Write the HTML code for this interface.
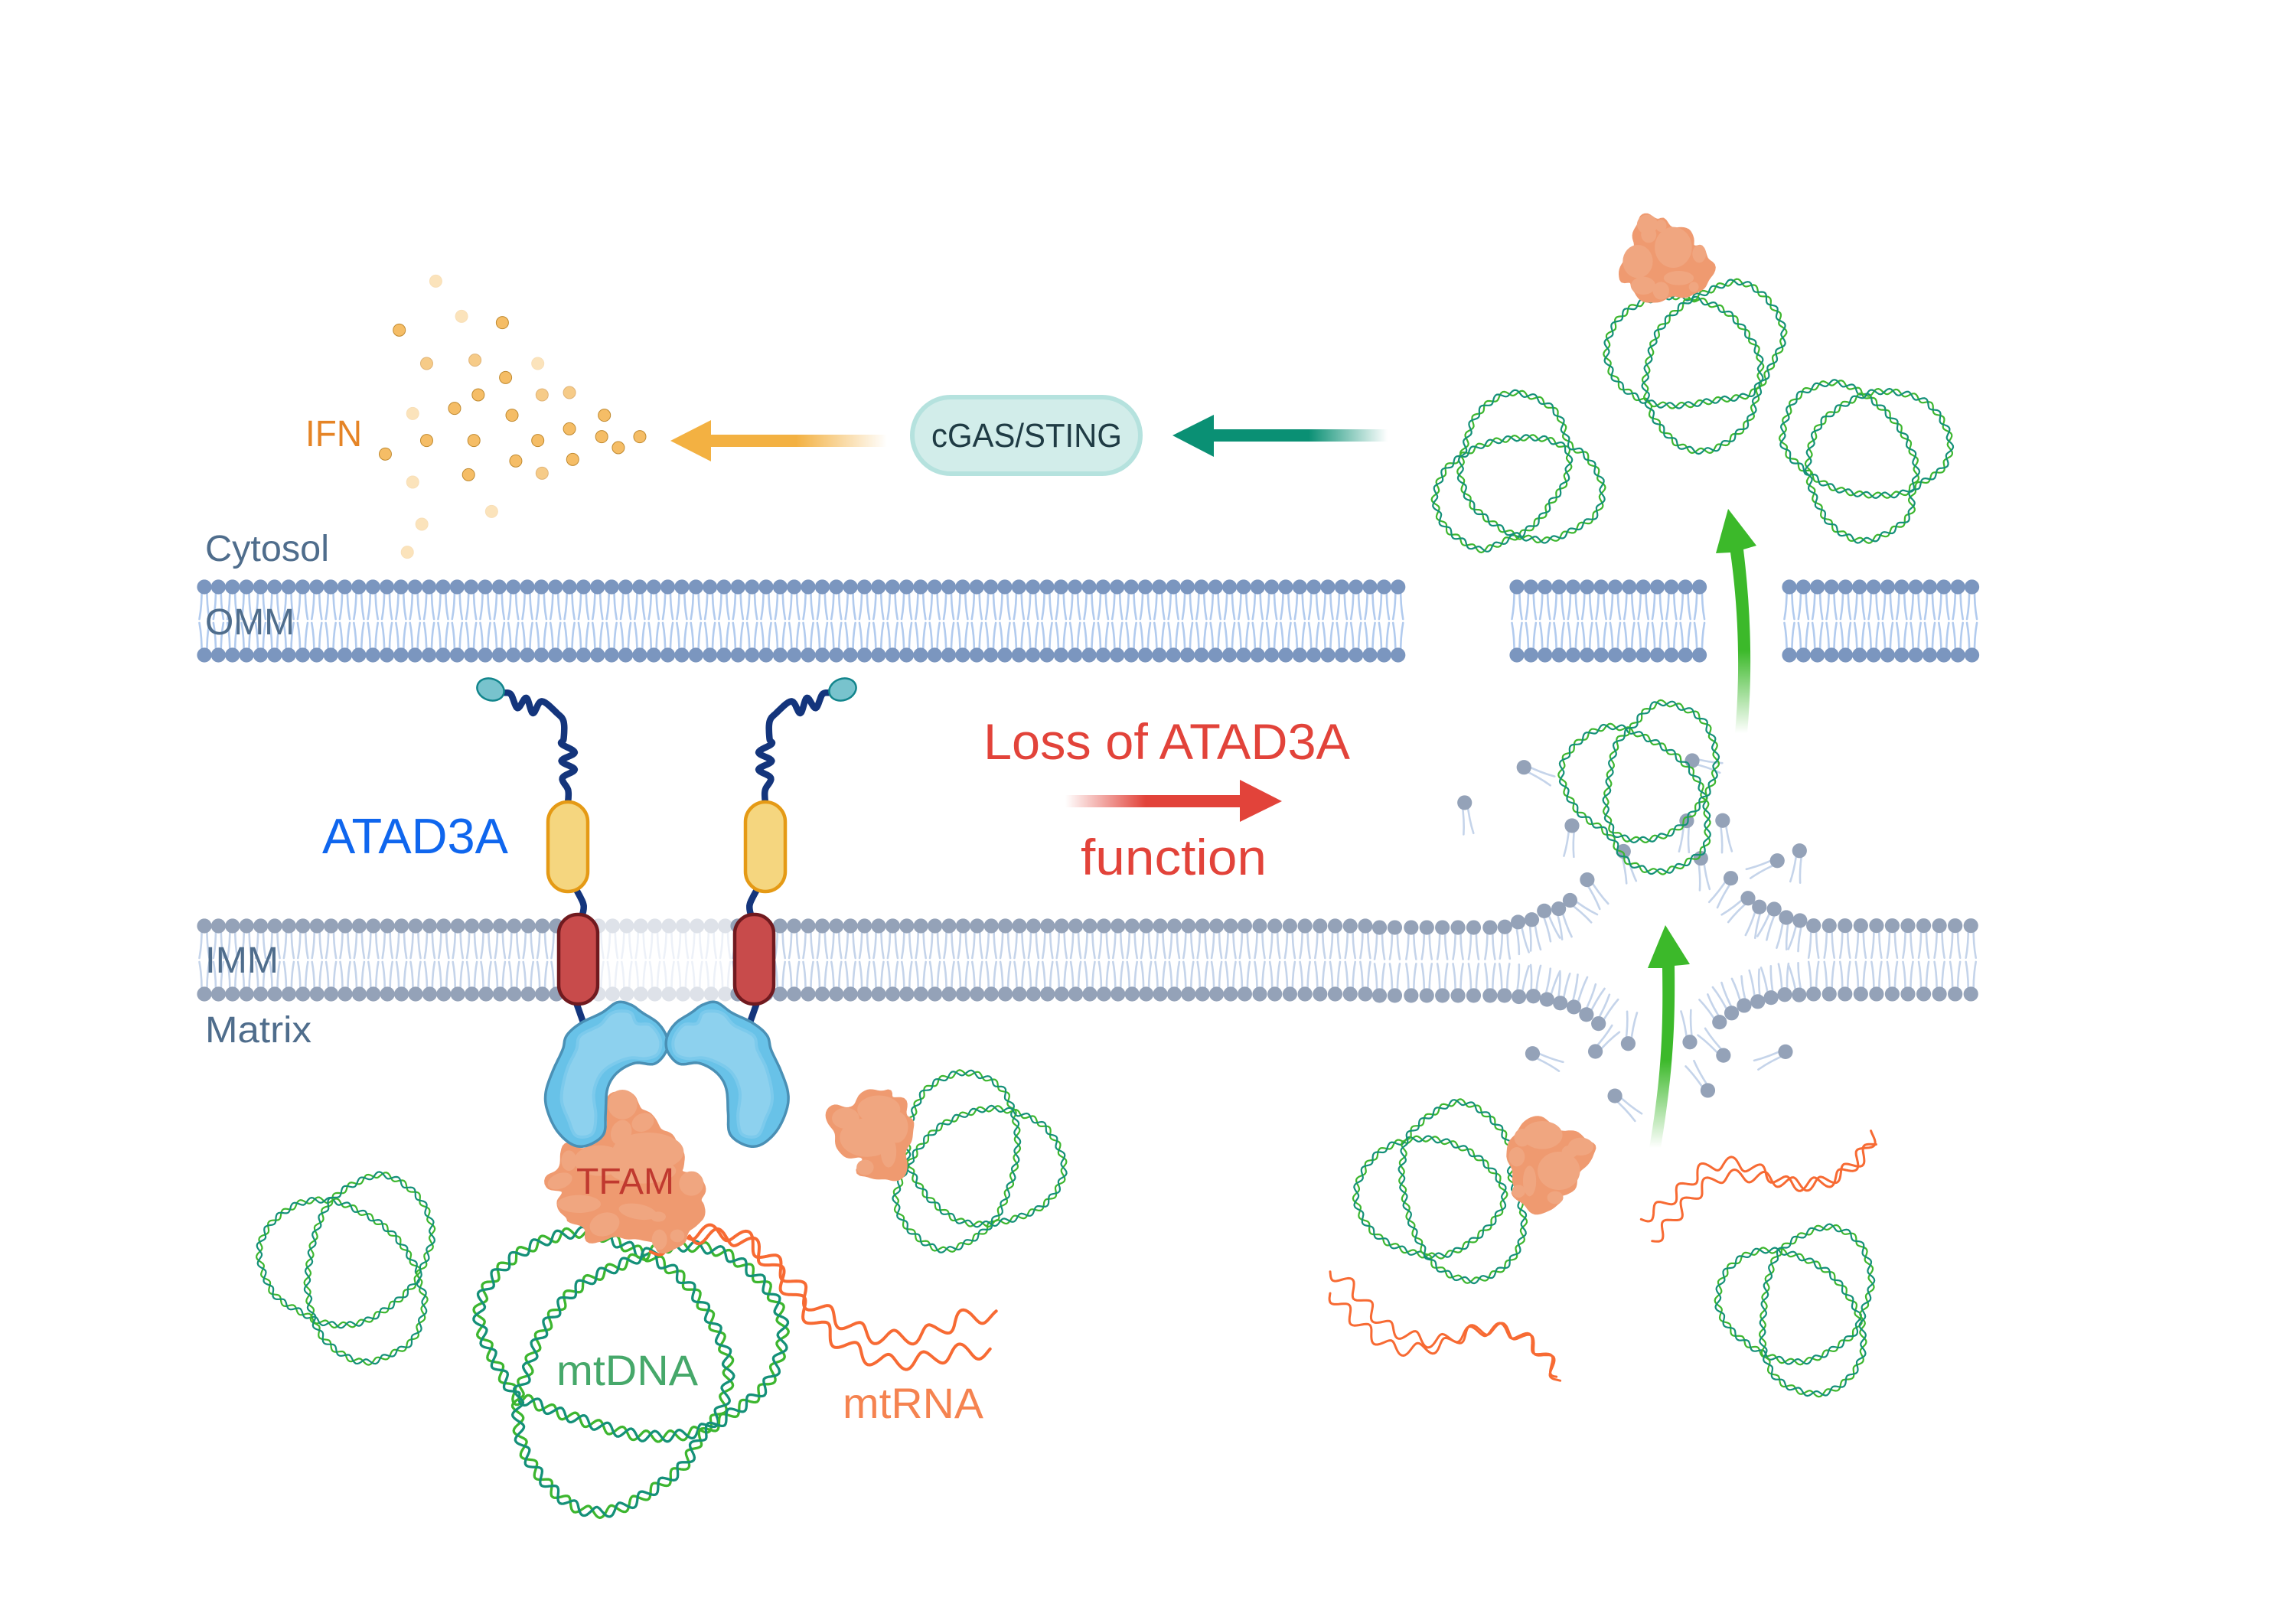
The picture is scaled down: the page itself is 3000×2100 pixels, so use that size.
<!DOCTYPE html>
<html lang="en">
<head>
<meta charset="utf-8">
<title>Loss of ATAD3A function</title>
<style>
html,body{margin:0;padding:0;background:#fff;width:3000px;height:2100px;overflow:hidden}
svg{display:block}
text{font-family:"Liberation Sans",sans-serif}
</style>
</head>
<body>
<svg id="s" xmlns="http://www.w3.org/2000/svg" width="3000" height="2100" viewBox="0 0 3000 2100">
<defs>
<linearGradient id="gy" gradientUnits="userSpaceOnUse" x1="1159" y1="0" x2="1040" y2="0"><stop offset="0" stop-color="#f3b142" stop-opacity="0"/><stop offset="1" stop-color="#f3b142"/></linearGradient>
<linearGradient id="gt" gradientUnits="userSpaceOnUse" x1="1813" y1="0" x2="1710" y2="0"><stop offset="0" stop-color="#0a9074" stop-opacity="0"/><stop offset="1" stop-color="#0a9074"/></linearGradient>
<linearGradient id="gr" gradientUnits="userSpaceOnUse" x1="1392" y1="0" x2="1497" y2="0"><stop offset="0" stop-color="#e2433a" stop-opacity="0"/><stop offset="1" stop-color="#e2433a"/></linearGradient>
<linearGradient id="g1" gradientUnits="userSpaceOnUse" x1="0" y1="1500" x2="0" y2="1385"><stop offset="0" stop-color="#3cb92a" stop-opacity="0"/><stop offset="1" stop-color="#3cb92a"/></linearGradient>
<linearGradient id="g2" gradientUnits="userSpaceOnUse" x1="0" y1="958" x2="0" y2="850"><stop offset="0" stop-color="#3cb92a" stop-opacity="0"/><stop offset="1" stop-color="#3cb92a"/></linearGradient>
</defs>
<g id="layer"></g>
<polygon points="876,576 929,549 929,568 1159,568 1159,584 929,584 929,603" fill="url(#gy)"/>
<polygon points="1532,569 1586,542 1586,561 1813,561 1813,577 1586,577 1586,597" fill="url(#gt)"/>
<polygon points="1392,1039 1620,1039 1620,1019 1675,1047 1620,1074 1620,1055 1392,1055" fill="url(#gr)"/>
<path d="M2172,1265 C2173,1340 2172,1400 2155,1500 L2170,1500 C2186,1400 2189,1340 2188,1262 L2208,1260 L2176,1209 L2153,1265 Z" fill="url(#g1)"/>
<path d="M2261,722 C2272,800 2274,880 2267,958 L2283,958 C2290,880 2288,800 2278,718 L2295,713 L2258,665 L2242,723 Z" fill="url(#g2)"/>
<rect x="1192" y="519" width="298" height="100" rx="50" ry="50" fill="#d2edea" stroke="#b5e2de" stroke-width="6"/>
<g font-size="48">
<text x="268" y="733" fill="#4f6d8c" textLength="162" lengthAdjust="spacingAndGlyphs">Cytosol</text>
<text x="268" y="829" fill="#4f6d8c" textLength="117" lengthAdjust="spacingAndGlyphs">OMM</text>
<text x="268" y="1271" fill="#4f6d8c" textLength="96" lengthAdjust="spacingAndGlyphs">IMM</text>
<text x="268" y="1362" fill="#4f6d8c" textLength="139" lengthAdjust="spacingAndGlyphs">Matrix</text>
<text x="753" y="1560" fill="#c0392f" textLength="128" lengthAdjust="spacingAndGlyphs">TFAM</text>
<text x="399" y="583" fill="#e58426" textLength="74" lengthAdjust="spacingAndGlyphs">IFN</text>
</g>
<text x="1217" y="584" font-size="44" fill="#1f3b44" textLength="249" lengthAdjust="spacingAndGlyphs">cGAS/STING</text>
<text x="421" y="1115" font-size="65" fill="#0f66ee" textLength="243" lengthAdjust="spacingAndGlyphs">ATAD3A</text>
<text x="1285" y="992" font-size="66" fill="#e2433a" textLength="479" lengthAdjust="spacingAndGlyphs">Loss of ATAD3A</text>
<text x="1412" y="1143" font-size="66" fill="#e2433a" textLength="243" lengthAdjust="spacingAndGlyphs">function</text>
<text x="727" y="1810" font-size="56" fill="#46a86a" textLength="185" lengthAdjust="spacingAndGlyphs">mtDNA</text>
<text x="1101" y="1853" font-size="56" fill="#f58350" textLength="184" lengthAdjust="spacingAndGlyphs">mtRNA</text>
</svg>
<script>
(function(){
var NS="http://www.w3.org/2000/svg",L=document.getElementById("layer");
function el(n,a,p){var e=document.createElementNS(NS,n);for(var k in a)e.setAttribute(k,a[k]);(p||L).appendChild(e);return e}
function map(a,ox,oy,sx,sy){return a.map(function(p){return [ox+p[0]*sx,oy+p[1]*sy]})}
function sample(P,closed,n){n=n||14;var out=[],N=P.length,segs=closed?N:N-1;
 function g(i){return closed?P[(i+N)%N]:P[Math.max(0,Math.min(N-1,i))]}
 for(var i=0;i<segs;i++){var a=g(i-1),b=g(i),c=g(i+1),d=g(i+2);
  for(var j=0;j<n;j++){var t=j/n,t2=t*t,t3=t2*t;
   out.push([.5*(2*b[0]+(c[0]-a[0])*t+(2*a[0]-5*b[0]+4*c[0]-d[0])*t2+(3*b[0]-a[0]-3*c[0]+d[0])*t3),
             .5*(2*b[1]+(c[1]-a[1])*t+(2*a[1]-5*b[1]+4*c[1]-d[1])*t2+(3*b[1]-a[1]-3*c[1]+d[1])*t3)])}}
 if(!closed)out.push(P[N-1]);return out}
function resample(Q,closed,step,win){var s=[0],i;var R=closed?Q.concat([Q[0]]):Q;
 for(i=1;i<R.length;i++)s.push(s[i-1]+Math.hypot(R[i][0]-R[i-1][0],R[i][1]-R[i-1][1]));
 var tot=s[s.length-1],out=[],k=1,cnt=Math.round(tot/step);
 for(i=0;i<=cnt;i++){var d=tot*i/cnt;k=1;while(k<s.length-1&&s[k]<d)k++;var f=(d-s[k-1])/((s[k]-s[k-1])||1);
  var x=R[k-1][0]+(R[k][0]-R[k-1][0])*f,y=R[k-1][1]+(R[k][1]-R[k-1][1])*f;out.push({x:x,y:y,d:d})}
 var n=out.length,res=[];
 function at(j){return closed?out[((j%(n-1))+(n-1))%(n-1)]:out[Math.max(0,Math.min(n-1,j))]}
 for(i=0;i<n;i++){var p1=at(i-win),p2=at(i+win),nx=-(p2.y-p1.y),ny=p2.x-p1.x,m=Math.hypot(nx,ny)||1;
  res.push({x:out[i].x,y:out[i].y,nx:nx/m,ny:ny/m,d:out[i].d})}
 return {pts:res,tot:tot}}
function pd(a,closed){return "M"+a.map(function(p){return p[0].toFixed(1)+","+p[1].toFixed(1)}).join("L")+(closed?"Z":"")}
function helix(P,period,amp,w){var r=resample(sample(P,true),true,2,5),c=Math.max(3,Math.round(r.tot/period)),a=[],b=[];
 r.pts.forEach(function(q){var th=2*Math.PI*c*q.d/r.tot,o=amp*Math.sin(th),u=amp*Math.sin(th+2.3);a.push([q.x+q.nx*o,q.y+q.ny*o]);b.push([q.x+q.nx*u,q.y+q.ny*u])});
 el("path",{d:pd(a),fill:"none",stroke:"#3db62f","stroke-width":w});
 el("path",{d:pd(b),fill:"none",stroke:"#149079","stroke-width":w})}
function ring(A,B,period,amp,w){helix(A,period,amp,w);helix(B,period,amp,w)}
function wave(P,period,amp,w){var r=resample(sample(P,false),false,2,12),c=r.tot/period,a=[];
 r.pts.forEach(function(q){var o=amp*Math.sin(2*Math.PI*c*q.d/r.tot);a.push([q.x+q.nx*o,q.y+q.ny*o])});
 el("path",{d:pd(a),fill:"none",stroke:"#f76a33","stroke-width":w,"stroke-linecap":"round","stroke-linejoin":"round"})}
function bumpy(P,amp,period,seed){var r=resample(sample(P,true,8),true,3,3),c=Math.max(3,Math.round(r.tot/period)),a=[];
 r.pts.forEach(function(q){var t=2*Math.PI*q.d/r.tot,o=amp*(Math.sin(c*t+seed)+.4*Math.sin(2*c*t+seed*2));a.push([q.x+q.nx*o,q.y+q.ny*o])});
 return pd(a,true)}
function lipid(x,y,tx,ty,hc,tc,p){var dx=tx-x,dy=ty-y,m=Math.hypot(dx,dy),ux=dx/m,uy=dy/m,px=-uy,py=ux;
 [-1,1].forEach(function(s){
  var sx=x+px*s*3.5,sy=y+py*s*3.5,cx=x+ux*m*.55+px*s*3,cy=y+uy*m*.55+py*s*3,ex=tx+px*s*6.5,ey=ty+py*s*6.5;
  el("path",{d:"M"+sx+","+sy+"Q"+cx+","+cy+" "+ex+","+ey,fill:"none",stroke:tc,"stroke-width":2.6,"stroke-linecap":"round"},p)});
 el("circle",{cx:x,cy:y,r:9.6,fill:hc},p)}
function row(x0,x1,step,y,dir,hc,tc,op){var g=el("g",op?{opacity:op}:{});for(var x=x0;x<=x1+.01;x+=step)lipid(x,y,x,y+dir*42,hc,tc,g)}

/* membranes */
var OH="#7b96bf",OT="#b2cbee",IH="#94a2b8",IT="#c5d4ea";
[[267,1841],[1982,2232],[2338,2588]].forEach(function(r){row(r[0],r[1],18.35,767,1,OH,OT);row(r[0],r[1],18.35,856,-1,OH,OT)});
[[267,775,0,18.4],[782,955,.3,18.4],[964,1630,0,18.4],[1646,1790,0,19.7]].forEach(function(r){row(r[0],r[1],r[3],1210,1,IH,IT,r[2]);row(r[0],r[1],r[3],1299,-1,IH,IT,r[2])});
function Z3(a){return map(a,1800,900,.51,.395)}
var arc=[
[5,790,5,895],[44,790,44,895],[86,790,86,895],[126,790,126,895],[166,790,166,895],[206,790,206,895],[246,790,246,895],[288,790,288,895],[326,788,326,893],
[360,772,375,875],[395,764,405,865],[427,735,455,830],[464,728,485,825],[493,700,555,760],[537,632,580,720],
[905,627,860,715],[949,693,890,760],[978,722,955,820],[1016,729,985,825],[1047,757,1035,860],[1082,767,1065,865],
[5,1015,5,910],[44,1015,44,910],[86,1015,86,910],[126,1015,126,910],[166,1015,166,910],[206,1015,206,910],[246,1015,246,910],[288,1015,288,910],[325,1015,325,910],
[362,1019,375,915],[399,1017,405,915],[434,1028,455,930],[468,1040,480,940],[503,1053,525,950],[535,1078,570,985],[566,1108,605,1020],
[876,1103,835,1020],[907,1073,870,980],[939,1048,920,955],[974,1035,965,930],[1008,1022,995,920],[1043,1012,1040,910],[1080,1013,1065,910],
[375,260,448,305],[223,377,233,480],[498,453,490,555],[630,538,650,640],[792,437,785,540],[806,238,880,262],[884,436,895,540],[828,561,838,665],[1024,569,950,612],[1081,536,1070,640],
[397,1207,470,1250],[558,1200,610,1125],[642,1174,652,1070],[800,1169,790,1065],[886,1213,830,1135],[1045,1201,970,1245],[608,1347,668,1418],[846,1329,800,1240]];
arc.forEach(function(a){var h=Z3([[a[0],a[1]],[a[2],a[3]]]);lipid(h[0][0],h[0][1],h[1][0],h[1][1],IH,IT)});
for(var X=1117;X<=1560;X+=40.3){var hh=Z3([[X,784]])[0];lipid(hh[0],hh[1],hh[0],hh[1]+42,IH,IT);var hl=Z3([[X,1010]])[0];lipid(hl[0],hl[1],hl[0],hl[1]-42,IH,IT)}

/* IFN dots */
[[270,82,2],[318,220,2],[394,245,0],[202,274,0],[253,405,1],[343,392,1],[460,405,2],[400,460,0],[349,528,0],[468,528,1],[519,519,1],[305,581,0],[227,601,2],[412,608,0],[584,608,0],[519,661,0],[579,692,0],[650,692,0],[610,735,0],[253,707,0],[341,707,0],[460,707,0],[176,760,0],[525,781,0],[419,787,0],[468,835,1],[331,841,0],[227,870,2],[374,985,2],[244,1035,2],[217,1145,2]].forEach(function(d){
 var x=380+d[0]*.7015,y=340+d[1]/3,c=[["#f5bd66","#c08a30"],["#f6cb88","#e0b478"],["#fbe3bb","#f8dfb8"]][d[2]];
 el("circle",{cx:x,cy:y,r:8,fill:c[0],stroke:c[1],"stroke-width":1});});

/* big DNA */
function Z2(a){return map(a,600,1280,.51,.459)}
ring(Z2([[140,1180],[50,960],[130,800],[300,720],[450,770],[570,850],[660,1000],[690,1130],[640,1270],[480,1300],[300,1250],[180,1200]]),
     Z2([[170,1130],[210,1010],[300,880],[440,800],[550,760],[680,780],[790,880],[830,1000],[790,1150],[680,1250],[620,1300],[560,1400],[400,1510],[280,1490],[170,1350],[150,1200]]),32,7,3.3);
wave(Z2([[490,775],[590,720],[640,720],[720,730],[790,790],[850,850],[900,920],[960,960],[1050,1010],[1130,1020],[1220,1000],[1300,960],[1375,960]]),48,10,4);
wave(Z2([[590,730],[720,740],[790,800],[850,890],[900,960],[960,1020],[1040,1070],[1110,1090],[1200,1080],[1280,1060],[1360,1060]]),48,10,4);

/* small rings */
var P=24,AM=3.7,W=2.2;
ring(Z2([[1160,390],[1200,310],[1290,265],[1380,300],[1420,380],[1430,480],[1410,590],[1360,700],[1250,770],[1160,720],[1118,630],[1145,530],[1150,450]]),
     Z2([[1160,510],[1230,420],[1340,370],[1430,380],[1510,430],[1550,540],[1500,640],[1390,690],[1290,690],[1210,630],[1160,550]]),P,AM,W);
var m8=function(a){return map(a,320,1520,1/3,1/3)};
ring(m8([[55,350],[80,270],[130,210],[220,155],[320,145],[400,165],[520,230],[600,300],[660,390],[680,440],[640,500],[570,560],[470,620],[370,635],[290,620],[230,590],[130,530],[80,450]]),
     m8([[245,450],[270,300],[310,190],[355,130],[430,80],[530,45],[620,80],[700,160],[735,280],[700,400],[680,450],[705,550],[660,690],[560,755],[480,780],[400,760],[320,700],[275,630],[250,530]]),P,AM,W);
var m9=function(a){return map(a,1860,500,1/3,1/3)};
ring(m9([[45,440],[80,350],[140,295],[230,245],[340,220],[470,220],[560,260],[570,320],[550,400],[500,470],[460,530],[390,590],[320,620],[230,655],[150,620],[80,560],[50,490]]),
     m9([[145,330],[165,240],[200,140],[270,70],[350,40],[450,65],[530,130],[570,240],[640,290],[700,400],[680,510],[600,570],[500,615],[410,610],[340,590],[270,550],[190,480],[150,390]]),P,AM,W);
ring(Z3([[470,270],[520,170],[600,125],[700,170],[780,240],[830,330],[845,450],[830,540],[730,605],[640,570],[590,480],[510,400]]),
     Z3([[590,330],[610,190],[650,130],[700,60],[750,50],[830,100],[865,200],[860,300],[820,390],[760,470],[680,500],[610,480],[585,400]]),P,AM,W);
function Z4(a){return map(a,1750,1380,.478,1/3)}
ring(Z4([[45,540],[80,420],[150,345],[250,325],[350,370],[430,470],[450,570],[400,680],[310,770],[230,780],[130,730],[70,650]]),
     Z4([[175,400],[185,320],[250,230],[330,180],[410,240],[465,350],[470,480],[505,650],[470,800],[370,880],[270,830],[215,720],[185,600],[170,470]]),P,AM,W);
ring(Z4([[1035,940],[1060,840],[1130,770],[1220,770],[1330,840],[1400,960],[1420,1050],[1380,1120],[1280,1195],[1180,1180],[1090,1100],[1045,1020]]),
     Z4([[1160,1000],[1175,860],[1215,750],[1330,670],[1420,730],[1455,880],[1430,1020],[1430,1170],[1380,1280],[1300,1325],[1200,1270],[1160,1150]]),P,AM,W);
function Z6(a){return map(a,2040,260,.357,1/3)}
ring(Z6([[165,590],[210,470],[310,400],[450,385],[600,440],[700,560],[730,660],[700,760],[560,790],[420,810],[300,790],[200,710]]),
     Z6([[310,690],[350,530],[440,420],[520,370],[650,325],[760,400],[815,530],[770,650],[720,760],[680,880],[560,980],[440,970],[340,860],[310,760]]),P,AM,W);
ring(Z6([[810,920],[860,780],[990,720],[1100,760],[1210,860],[1280,980],[1300,1080],[1260,1150],[1120,1160],[990,1130],[900,1070],[830,1000]]),
     Z6([[905,1020],[950,880],[1080,780],[1200,755],[1340,800],[1420,930],[1400,1050],[1290,1140],[1280,1230],[1210,1300],[1100,1340],[990,1280],[920,1150]]),P,AM,W);

/* lower-right and left RNA */
wave(Z4([[825,640],[870,600],[930,530],[1000,440],[1080,420],[1150,450],[1230,500],[1300,500],[1370,470],[1430,380],[1462,300]]),38,8,3);
wave(Z4([[855,725],[900,660],[960,560],[1030,480],[1100,470],[1170,480],[1240,500],[1310,500],[1370,460],[1420,410],[1462,340]]),38,8,3);
wave(Z4([[-25,845],[30,900],[70,970],[130,1060],[200,1100],[260,1120],[340,1090],[430,1070],[500,1100],[550,1160],[600,1250]]),38,8,3);
wave(Z4([[-25,930],[20,1000],[70,1070],[140,1140],[210,1150],[290,1130],[360,1080],[440,1070],[510,1110],[570,1190],[600,1275]]),38,8,3);

/* TFAM blobs */
var TB="#ef9a70",TL="#f0a680";
function blob(o,seed,lights){var g=el("g",{});
 el("path",{d:bumpy(o,2,55,seed),fill:TB,stroke:TB,"stroke-width":4,"stroke-linejoin":"round"},g);
 lights.forEach(function(e){el("ellipse",{cx:e[0],cy:e[1],rx:e[2],ry:e[3],fill:TL,transform:"rotate("+(e[4]||0)+" "+e[0]+" "+e[1]+")"},g)})}
function Z11(a){return map(a,700,1410,1/3,1/3)}
function li(a,ox,oy,sx,sy){return a.map(function(e){return [ox+e[0]*sx,oy+e[1]*sy,e[2]*sx,e[3]*sy,e[4]||0]})}
blob(Z11([[340,46],[385,70],[405,125],[455,135],[490,205],[545,235],[578,300],[565,365],[625,365],[655,420],[645,470],[662,495],[652,545],[600,585],[585,640],[490,672],[455,640],[350,615],[220,635],[195,590],[130,555],[125,540],[85,480],[105,440],[55,425],[50,385],[95,340],[105,290],[130,260],[200,270],[270,225],[285,90]]),1,
 li([[340,100,58,58],[335,210,40,50,20],[420,170,45,35,-25],[440,285,140,75],[250,320,100,60],[130,320,30,40],[95,400,50,30,-20],[170,490,85,35],[270,570,60,45,-20],[400,520,75,30,10],[480,540,30,20],[610,410,48,48],[485,630,30,40],[555,615,28,25],[420,360,130,50]],700,1410,1/3,1/3));
blob(Z2([[1100,315],[1108,338],[1138,348],[1148,385],[1162,410],[1146,480],[1140,550],[1090,570],[1042,556],[1025,545],[1032,510],[988,500],[962,440],[943,390],[962,365],[1010,360],[1034,328]]),2,
 li([[1075,370,55,40],[990,395,35,30],[1045,450,70,55],[1120,420,30,45],[1100,490,20,45],[1040,535,22,22]],600,1280,.51,.459));
blob(Z6([[315,62],[350,90],[375,85],[410,110],[465,125],[480,185],[515,180],[532,235],[553,270],[530,340],[470,370],[400,385],[350,400],[290,385],[258,355],[255,325],[225,322],[222,295],[232,230],[270,190],[272,140],[285,75]]),3,
 li([[315,100,38,38],[365,105,20,24],[410,190,68,80],[320,140,28,32],[280,245,55,65],[430,310,55,28],[365,360,30,35],[300,340,45,35],[505,215,25,35],[485,345,18,20]],2040,260,.357,1/3));
blob(Z4([[525,248],[575,260],[600,295],[640,305],[695,345],[690,385],[672,420],[650,480],[640,520],[605,540],[605,575],[565,605],[535,608],[505,585],[475,540],[485,510],[465,420],[462,380],[478,320],[490,285]]),4,
 li([[555,310,55,55],[660,355,35,35],[630,375,22,25],[600,450,58,75],[485,395,22,38],[520,490,18,60],[590,555,22,25],[500,320,22,35],[490,530,18,25]],1750,1380,.478,1/3));

/* wires */
function wires(t){var b=function(a){return t?a.map(function(q){return [1742-q[0],q[1]]}):a};
 var Z1=function(a){return map(a,240,680,.574,.446)};
 var s=function(a){el("path",{d:pd(sample(b(Z1(a)),false,8)),fill:"none",stroke:"#14357c","stroke-width":8.5,"stroke-linecap":"round","stroke-linejoin":"round"})};
 s([[730,505],[745,510],[760,550],[780,520],[795,565],[815,530],[850,565],[865,590],[865,640],[860,655],[890,680],[860,705],[890,730],[862,755],[875,790],[875,825]]);
 s([[895,1085],[910,1125],[908,1155]]);
 s([[895,1418],[912,1480]]);
 var hc=b([[641,901]])[0];
 el("ellipse",{cx:hc[0],cy:hc[1],rx:18,ry:14,fill:"#78c3cd",stroke:"#12858c","stroke-width":2.5,transform:"rotate("+(t?-20:20)+" "+hc[0]+" "+hc[1]+")"});
}
wires(false);wires(true);
[716,974].forEach(function(x){el("rect",{x:x,y:1048,width:52,height:117,rx:26,ry:26,fill:"#f5d67f",stroke:"#e59a15","stroke-width":4.5})});
[730,960].forEach(function(x){el("rect",{x:x,y:1195,width:51,height:117,rx:25,ry:25,fill:"#c84b4b",stroke:"#701a1f","stroke-width":4.5})});

/* blue protein */
var bo=[[405,65],[440,72],[470,95],[510,125],[532,165],[530,205],[500,240],[450,238],[405,265],[380,310],[375,380],[370,440],[330,472],[290,470],[250,430],[225,370],[222,320],[240,260],[265,200],[275,160],[310,125],[365,95]];
var bi=[[410,90],[440,95],[455,125],[490,130],[515,170],[510,210],[480,225],[430,225],[370,260],[345,320],[350,390],[340,440],[300,445],[280,400],[262,340],[275,260],[300,200],[310,160],[360,130],[385,100]];
[0,1].forEach(function(f){var fx=function(a){return f?a.map(function(q){return [1064-q[0],q[1]]}):a};
 el("path",{d:pd(sample(Z2(fx(bo)),true,8),true),fill:"#68c2e8",stroke:"#4a90b5","stroke-width":3.5,"stroke-linejoin":"round"});
 el("path",{d:pd(sample(Z2(fx(bi)),true,8),true),fill:"#8dd1ee",stroke:"#7ccaec","stroke-width":4});
});
})();
</script>
</body>
</html>
